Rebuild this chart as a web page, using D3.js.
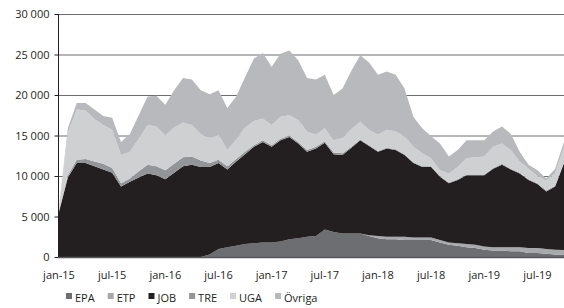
<!DOCTYPE html>
<html lang="sv">
<head>
<meta charset="UTF-8">
<title>Stacked area</title>
<script src="https://cdn.jsdelivr.net/npm/d3@7"></script>
<style>
  body { margin: 0; background: #fff; }
  svg text { font-family: "Open Sans", sans-serif; font-size: 11px; fill: #231f20; }
</style>
</head>
<body>
<svg id="chart" width="564" height="308"></svg>
<script>
// months jan-15 .. okt-19, values in thousands
const months = d3.range(58);
const tickLabels = ["jan-15", "jul-15", "jan-16", "jul-16", "jan-17", "jul-17", "jan-18", "jul-18", "jan-19", "jul-19"];
const keys = ["EPA", "ETP", "JOB", "TRE", "UGA", "Övriga"];

const EPA = [0,0,0,0,0,0,0,0,0,0, 0,0,0,0,0,0,0,0.3,1.0,1.2,
  1.4,1.6,1.7,1.8,1.8,1.9,2.2,2.3,2.5,2.6, 3.4,3.1,2.9,2.9,2.9,2.6,2.3,2.2,2.2,2.1,
  2.1,2.1,2.1,1.8,1.5,1.4,1.2,1.1,0.9,0.8, 0.8,0.7,0.7,0.5,0.5,0.4,0.3,0.25];
const ETP = [0,0,0,0,0,0,0,0,0,0, 0,0,0,0,0,0,0,0,0,0,
  0,0,0,0,0,0,0,0,0,0, 0,0,0,0,0,0.1,0.3,0.3,0.3,0.4,
  0.3,0.3,0.3,0.3,0.3,0.3,0.4,0.4,0.4,0.4, 0.4,0.5,0.5,0.6,0.6,0.6,0.6,0.6];
const JOB = [5.6,9.8,11.6,11.6,11.2,10.8,10.4,8.7,9.3,9.8, 10.3,10.1,9.6,10.4,11.2,11.4,11.1,10.8,10.6,9.6,
  10.4,11.1,11.9,12.4,11.8,12.5,12.6,11.7,10.5,10.8, 10.7,9.6,9.7,10.6,11.5,11.0,10.4,10.9,10.7,10.1,
  9.2,8.7,8.7,7.8,7.3,7.8,8.5,8.6,8.8,9.7, 10.2,9.6,9.1,8.4,7.9,7.1,7.8,10.75];
const TRE = [0.1,0.3,0.4,0.5,0.6,0.7,0.6,0.4,0.4,0.8, 1.1,1.1,1.1,1.1,1.1,1.0,0.8,0.5,0.4,0.4,
  0.3,0.3,0.2,0.2,0.2,0.2,0.2,0.2,0.2,0.2, 0.2,0.2,0.2,0.1,0.1,0.1,0.1,0.1,0.1,0.1,
  0.1,0.1,0.1,0.1,0.1,0.1,0.1,0.1,0.1,0.1, 0.1,0.1,0.1,0.1,0.1,0.1,0.1,0.1];
const UGA = [0.3,5.2,6.2,6.0,5.2,4.8,4.7,3.5,3.3,4.0, 4.9,4.9,4.3,4.5,4.3,3.9,3.3,3.1,3.1,2.0,
  2.4,3.0,3.0,2.7,2.5,2.7,2.5,2.7,2.3,1.5, 1.6,1.5,1.9,2.2,2.2,1.9,2.0,2.2,2.2,2.2,
  1.9,1.6,1.0,0.7,1.1,1.5,2.0,2.1,2.2,2.6, 2.5,2.3,1.4,1.3,0.9,1.2,1.5,1.9];
const OVR = [0.2,0.6,0.8,0.9,1.2,1.1,1.5,1.6,2.2,2.9, 3.5,3.8,3.8,4.6,5.5,5.6,5.4,5.4,5.5,5.2,
  5.3,6.2,7.7,8.1,7.2,7.8,8.0,7.4,6.6,6.8, 6.6,5.6,6.1,7.2,8.2,8.3,7.4,7.2,7.0,5.9,
  3.7,3.1,2.7,3.3,2.1,2.1,2.2,2.1,2.0,1.9, 2.1,2.0,1.2,0.5,0.7,0.3,0.6,0.6];

const colors = ["#6d6e71", "#a7a9ac", "#231f20", "#939598", "#cfd0d2", "#b8b9bc"];

const rows = months.map((m, i) => ({
  m: m,
  "EPA": EPA[i] * 1000, "ETP": ETP[i] * 1000, "JOB": JOB[i] * 1000,
  "TRE": TRE[i] * 1000, "UGA": UGA[i] * 1000, "Övriga": OVR[i] * 1000
}));

const svg = d3.select("#chart");
const plotLeft = 59, plotRight = 564, plotTop = 14, plotBottom = 257;

const x = d3.scaleLinear().domain([0, 57]).range([plotLeft, plotRight]);
const y = d3.scaleLinear().domain([0, 30000]).range([plotBottom, plotTop]);

// gridlines
const fmt = v => d3.format(",")(v).replace(",", " ");
svg.append("g")
  .selectAll("line")
  .data(d3.range(5000, 30001, 5000))
  .join("line")
  .attr("x1", plotLeft - 1).attr("x2", plotRight)
  .attr("y1", d => y(d) + 0.5).attr("y2", d => y(d) + 0.5)
  .attr("stroke", "#6d6e71").attr("stroke-width", 1.2);

const stack = d3.stack().keys(keys)(rows);
const area = d3.area()
  .x(d => x(d.data.m))
  .y0(d => y(d[0]))
  .y1(d => y(d[1]));

svg.append("g")
  .selectAll("path")
  .data(stack)
  .join("path")
  .attr("fill", (d, i) => colors[i])
  .attr("d", area);

// y axis
const yAxis = svg.append("g")
  .attr("transform", "translate(" + (plotLeft - 0.5) + ",0)")
  .call(d3.axisLeft(y).tickValues(d3.range(0, 30001, 5000)).tickSize(4).tickPadding(5).tickFormat(fmt));
yAxis.select(".domain").attr("stroke", "#231f20").attr("d", "M0," + plotBottom + "V" + plotTop);
yAxis.selectAll(".tick line").attr("stroke", "#231f20");
yAxis.selectAll("text").attr("font-size", null).attr("font-family", null);

// baseline
svg.append("line")
  .attr("x1", plotLeft - 1).attr("x2", plotRight)
  .attr("y1", plotBottom + 0.5).attr("y2", plotBottom + 0.5)
  .attr("stroke", "#58595b").attr("stroke-width", 1.5);

// x labels
svg.append("g")
  .selectAll("text")
  .data(tickLabels)
  .join("text")
  .attr("x", (d, i) => x(i * 6))
  .attr("y", 279)
  .attr("text-anchor", "middle")
  .text(d => d);

// legend
const legend = svg.append("g").attr("transform", "translate(66,298)");
let lx = 0;
keys.forEach((k, i) => {
  const g = legend.append("g").attr("transform", "translate(" + lx + ",0)");
  g.append("rect").attr("x", 0).attr("y", -5).attr("width", 6).attr("height", 6).attr("fill", colors[i]);
  const t = g.append("text").attr("x", 9).attr("y", 3.5).text(k);
  lx += 9 + t.node().getComputedTextLength() + 13;
});
</script>
</body>
</html>
